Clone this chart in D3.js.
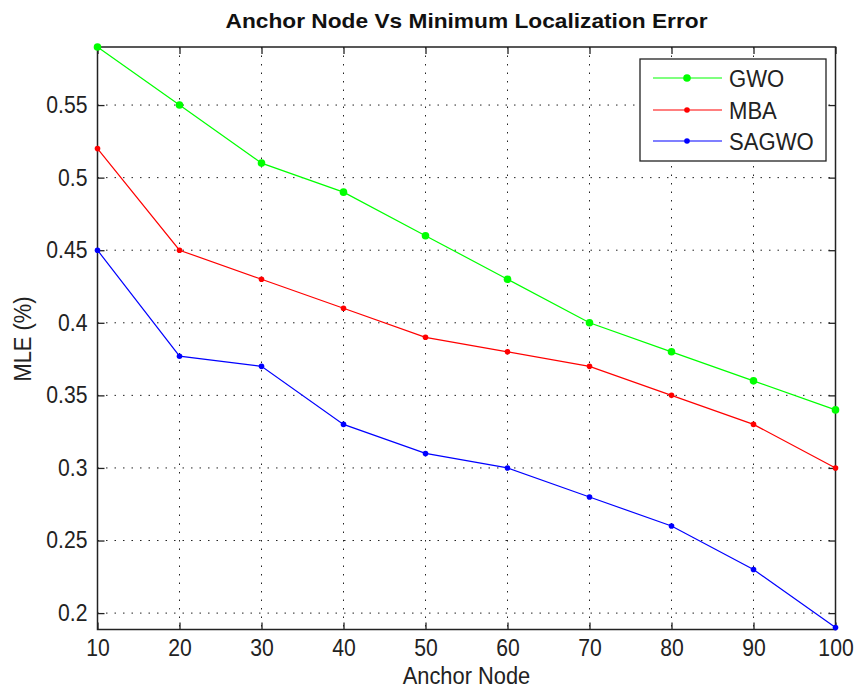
<!DOCTYPE html>
<html><head><meta charset="utf-8">
<script src="https://cdn.jsdelivr.net/npm/d3@7"></script>
<style>body{margin:0;background:#fff;} text{font-family:"Liberation Sans",Arial,sans-serif;}</style>
</head><body>
<svg id="c" width="857" height="690"></svg>
<script>
const anchors = [10,20,30,40,50,60,70,80,90,100];
const gwo   = [0.59,0.55,0.51,0.49,0.46,0.43,0.40,0.38,0.36,0.34];
const mba   = [0.52,0.45,0.43,0.41,0.39,0.38,0.37,0.35,0.33,0.30];
const sagwo = [0.45,0.377,0.37,0.33,0.31,0.30,0.28,0.26,0.23,0.19];
const yTicks = [0.2,0.25,0.3,0.35,0.4,0.45,0.5,0.55];
const seriesNames = ["GWO","MBA","SAGWO"];
const seriesColors = ["#00ff00","#ff0000","#0000ff"];
const seriesData = [gwo, mba, sagwo];

const svg = d3.select("#c");
const L=97.5, R=835.5, T=47, B=629.5;
const x = d3.scaleLinear().domain([10,100]).range([L,R]);
const y = d3.scaleLinear().domain([0.1887,0.59]).range([B,T]);

function narrow(sel, f){
  sel.each(function(){
    const w = this.getComputedTextLength();
    d3.select(this).attr("textLength", w*f).attr("lengthAdjust","spacingAndGlyphs");
  });
}

// grid
const g = svg.append("g");
g.selectAll(".gx").data(anchors.slice(1,-1)).join("line")
  .attr("x1",d=>x(d)).attr("x2",d=>x(d)).attr("y1",T).attr("y2",B)
  .attr("stroke","#222").attr("stroke-width",1).attr("stroke-dasharray","1.5,7");
g.selectAll(".gy").data(yTicks).join("line")
  .attr("y1",d=>y(d)).attr("y2",d=>y(d)).attr("x1",L).attr("x2",R)
  .attr("stroke","#222").attr("stroke-width",1).attr("stroke-dasharray","1.5,7");

// axes with inward ticks
const fs = "23px";
const xb = svg.append("g").attr("transform",`translate(0,${B})`)
  .call(d3.axisBottom(x).tickValues(anchors).tickSizeInner(-7).tickSizeOuter(0).tickPadding(10.5));
const xt = svg.append("g").attr("transform",`translate(0,${T})`)
  .call(d3.axisTop(x).tickValues(anchors).tickSizeInner(-7).tickSizeOuter(0).tickFormat(""));
const yl = svg.append("g").attr("transform",`translate(${L},0)`)
  .call(d3.axisLeft(y).tickValues(yTicks).tickSizeInner(-7).tickSizeOuter(0).tickPadding(10).tickFormat(d3.format("")));
const yr = svg.append("g").attr("transform",`translate(${R},0)`)
  .call(d3.axisRight(y).tickValues(yTicks).tickSizeInner(-7).tickSizeOuter(0).tickFormat(""));
[xb,xt,yl,yr].forEach(a=>{
  a.select(".domain").remove();
  a.selectAll("line").attr("stroke","#222").attr("stroke-width",1.3);
  a.selectAll("text").attr("fill","#222").style("font-size",fs).attr("font-family",null);
});
narrow(xb.selectAll("text"),0.92);
narrow(yl.selectAll("text"),0.92);
svg.append("rect").attr("x",L).attr("y",T).attr("width",R-L).attr("height",B-T)
  .attr("fill","none").attr("stroke","#222").attr("stroke-width",1.5);

// lines
const line = d3.line().x((d,i)=>x(anchors[i])).y(d=>y(d));
seriesData.forEach((s,k)=>{
  svg.append("path").datum(s).attr("d",line).attr("fill","none")
    .attr("stroke",seriesColors[k]).attr("stroke-width",1.2);
  svg.selectAll(null).data(s).join("circle")
    .attr("cx",(d,i)=>x(anchors[i])).attr("cy",d=>y(d))
    .attr("r",k===0?3.8:2.8).attr("fill",seriesColors[k]);
});

// title & labels
svg.append("text").attr("x",(L+R)/2).attr("y",28).attr("text-anchor","middle")
  .style("font-size","21px").style("font-weight","bold").attr("fill","#111")
  .attr("textLength",482).attr("lengthAdjust","spacingAndGlyphs")
  .text("Anchor Node Vs Minimum Localization Error");
narrow(svg.append("text").attr("x",(L+R)/2).attr("y",684).attr("text-anchor","middle")
  .style("font-size",fs).attr("fill","#222").text("Anchor Node"),0.95);
narrow(svg.append("text").attr("transform",`translate(31,339) rotate(-90)`).attr("text-anchor","middle")
  .style("font-size",fs).attr("fill","#222").text("MLE (%)"),0.95);

// legend
const lg = svg.append("g");
lg.append("rect").attr("x",640).attr("y",59).attr("width",186).attr("height",102)
  .attr("fill","#fff").attr("stroke","#222").attr("stroke-width",1.3);
const ly = [78,110,141];
seriesNames.forEach((n,k)=>{
  lg.append("line").attr("x1",653).attr("x2",722).attr("y1",ly[k]).attr("y2",ly[k])
    .attr("stroke",seriesColors[k]).attr("stroke-width",1.2);
  lg.append("circle").attr("cx",687).attr("cy",ly[k]).attr("r",k===0?3.8:2.8).attr("fill",seriesColors[k]);
  narrow(lg.append("text").attr("x",729).attr("y",ly[k]+8.5).style("font-size",fs).attr("fill","#222").text(n),0.96);
});
</script>
</body></html>
